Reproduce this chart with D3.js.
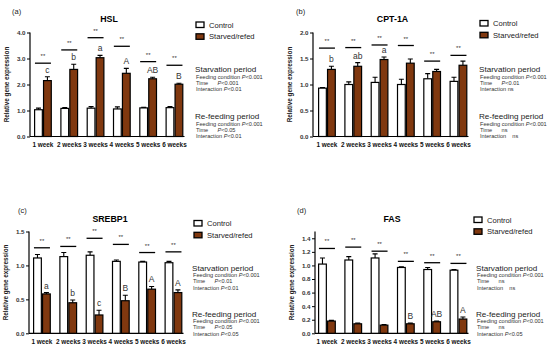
<!DOCTYPE html>
<html>
<head>
<meta charset="utf-8">
<script src="https://cdn.jsdelivr.net/npm/d3@7"></script>
<style>
  body { margin: 0; background: #fff; }
  svg { font-family: Arial, "Liberation Sans", sans-serif; }
</style>
</head>
<body>
<svg width="550" height="353"></svg>
<script>
// data
var weeks = ["1 week", "2 weeks", "3 weeks", "4 weeks", "5 weeks", "6 weeks"];

var hslControl = [1.03, 1.08, 1.09, 1.06, 1.10, 1.11];
var hslControlErr = [0.06, 0.03, 0.06, 0.08, 0.02, 0.04];
var hslStarved = [2.15, 2.58, 3.03, 2.43, 2.22, 2.01];
var hslStarvedErr = [0.15, 0.20, 0.09, 0.19, 0.06, 0.04];
var hslSig = [2.82, 3.33, 3.80, 3.47, 2.88, 2.74];
var hslLetters = ["c", "b", "a", "A", "AB", "B"];

var cptControl = [0.93, 1.00, 1.04, 1.00, 1.11, 1.06];
var cptControlErr = [0.01, 0.05, 0.10, 0.10, 0.10, 0.08];
var cptStarved = [1.29, 1.35, 1.48, 1.41, 1.25, 1.37];
var cptStarvedErr = [0.06, 0.07, 0.05, 0.08, 0.04, 0.08];
var cptSig = [1.70, 1.71, 1.76, 1.75, 1.45, 1.56];
var cptLetters = ["b", "ab", "a", "", "", ""];

var srebpControl = [1.11, 1.13, 1.15, 1.06, 1.05, 1.04];
var srebpControlErr = [0.05, 0.06, 0.05, 0.02, 0.01, 0.02];
var srebpStarved = [0.58, 0.45, 0.27, 0.48, 0.65, 0.60];
var srebpStarvedErr = [0.02, 0.04, 0.07, 0.08, 0.04, 0.04];
var srebpSig = [1.26, 1.28, 1.40, 1.31, 1.19, 1.20];
var srebpLetters = ["a", "b", "c", "B", "A", "A"];

var fasControl = [1.02, 1.08, 1.11, 0.97, 0.94, 0.93];
var fasControlErr = [0.09, 0.05, 0.06, 0.01, 0.03, 0.01];
var fasStarved = [0.18, 0.14, 0.12, 0.14, 0.17, 0.21];
var fasStarvedErr = [0.01, 0.01, 0.01, 0.01, 0.01, 0.03];
var fasSig = [1.25, 1.27, 1.21, 1.06, 1.04, 1.03];
var fasLetters = ["", "", "", "B", "AB", "A"];

var svg = d3.select("svg");
var brown = "#80380f";

function statBlock(g, x, y, title, time, inter) {
  g.append("text").attr("x", x).attr("y", y).attr("font-size", 8.1)
    .attr("fill", "#222").text(title);
  var lines = [["Feeding condition ", "P", "<0.001"], ["Time      ", time[0], time[1]],
               ["Interaction ", inter[0], inter[1]]];
  lines.forEach(function(l, i) {
    var t = g.append("text").attr("x", x + 1).attr("y", y + 6.5 + i * 6.3)
      .attr("font-size", 5.6).attr("fill", "#333").attr("xml:space", "preserve");
    t.append("tspan").text(l[0]);
    t.append("tspan").attr("font-style", "italic").text(l[1]);
    t.append("tspan").text(l[2]);
  });
}

function drawPanel(p) {
  var g = svg.append("g");
  var x = d3.scaleBand().domain(weeks).range([p.x0, p.x0 + 149.4])
    .paddingInner(0.32).paddingOuter(0);
  var y = d3.scaleLinear().domain([0, p.ymax]).range([p.y0, p.y1]);
  var bw = x.bandwidth() / 2;

  // y axis
  var ya = g.append("g").attr("transform", "translate(" + p.ax + ",0)")
    .call(d3.axisLeft(y).tickValues(p.ticks).tickFormat(d3.format(".1f")).tickSize(3).tickPadding(1.5));
  ya.select(".domain").attr("stroke-width", 1.2).attr("d", "M0," + p.y0 + "V" + p.y1);
  ya.selectAll(".tick line").attr("stroke-width", 1);
  ya.selectAll("text").attr("font-size", 6.2).attr("font-weight", "bold").attr("fill", "#333").attr("font-family", "Arial, sans-serif");

  // x axis
  var xa = g.append("g").attr("transform", "translate(0," + p.y0 + ")")
    .call(d3.axisBottom(x).tickSize(0).tickPadding(6));
  xa.select(".domain").attr("stroke-width", 1.2).attr("d", "M" + p.ax + ",0H" + (p.x0 + 150.5));
  xa.selectAll("text").attr("font-size", 6.4).attr("font-weight", "bold").attr("fill", "#111").attr("font-family", "Arial, sans-serif");

  // bars
  var series = [[p.ctrl, p.ctrlErr, "#fff", 0], [p.starved, p.starvedErr, brown, 1]];
  series.forEach(function(s) {
    var sg = g.append("g");
    // error bars (up only)
    sg.selectAll("path.err").data(s[0]).enter().append("path")
      .attr("d", function(d, i) {
        var cx = x(weeks[i]) + bw * s[3] + bw / 2;
        var top = y(d + s[1][i]);
        return "M" + cx + "," + y(d) + "V" + top + "M" + (cx - 2.5) + "," + top + "H" + (cx + 2.5);
      })
      .attr("stroke", "#000").attr("stroke-width", 1.1).attr("fill", "none");
    sg.selectAll("rect").data(s[0]).enter().append("rect")
      .attr("x", function(d, i) { return x(weeks[i]) + bw * s[3] + 0.6; })
      .attr("y", function(d) { return y(d); })
      .attr("width", bw - 1.2)
      .attr("height", function(d) { return p.y0 - y(d); })
      .attr("fill", s[2]).attr("stroke", "#000").attr("stroke-width", 1.2);
  });

  // significance lines
  g.selectAll("line.sig").data(p.sig).enter().append("line")
    .attr("x1", function(d, i) { return x(weeks[i]) + bw - 8; })
    .attr("x2", function(d, i) { return x(weeks[i]) + bw + 8; })
    .attr("y1", function(d) { return y(d); }).attr("y2", function(d) { return y(d); })
    .attr("stroke", "#000").attr("stroke-width", 1.3);
  g.selectAll("text.star").data(p.sig).enter().append("text")
    .attr("x", function(d, i) { return x(weeks[i]) + bw; })
    .attr("y", function(d) { return y(d) - 5; })
    .attr("text-anchor", "middle").attr("font-size", 6).attr("fill", "#333").text("**");

  // letters
  g.selectAll("text.letter").data(p.letters).enter().append("text")
    .attr("x", function(d, i) { return x(weeks[i]) + bw * 1.5; })
    .attr("y", function(d, i) { return y(p.starved[i] + p.starvedErr[i]) - 4; })
    .attr("text-anchor", "middle").attr("font-size", 8.5).attr("fill", "#333")
    .text(function(d) { return d; });

  // y title
  g.append("text").attr("transform", "translate(" + (p.ax - 21) + "," + ((p.y0 + p.y1) / 2) + ") rotate(-90)")
    .attr("text-anchor", "middle").attr("font-size", 6.3).attr("font-weight", "bold")
    .attr("fill", "#222").text("Relative gene expression");

  // title and panel tag
  g.append("text").attr("x", p.tx).attr("y", p.ty).attr("text-anchor", "middle")
    .attr("font-size", 8.8).attr("font-weight", "bold").text(p.title);
  g.append("text").attr("x", p.lx).attr("y", p.ly).attr("font-size", 7.5).attr("fill", "#222").text(p.tag);

  // legend
  [["Control", "#fff"], ["Starved/refed", brown]].forEach(function(l, i) {
    g.append("rect").attr("x", p.legX).attr("y", p.legY + i * 11.8).attr("width", 8).attr("height", 5.5)
      .attr("fill", l[1]).attr("stroke", "#000").attr("stroke-width", 1.3);
    g.append("text").attr("x", p.legX + 13).attr("y", p.legY + 5.5 + i * 11.8)
      .attr("font-size", 7.6).attr("fill", "#222").text(l[0]);
  });

  statBlock(g, p.sx, p.sy1, "Starvation period", p.st1[0], p.st1[1]);
  statBlock(g, p.sx, p.sy2, "Re-feeding period", p.st2[0], p.st2[1]);
}

drawPanel({
  tag: "(a)", title: "HSL", ctrl: hslControl, ctrlErr: hslControlErr, starved: hslStarved,
  starvedErr: hslStarvedErr, sig: hslSig, letters: hslLetters,
  ax: 30, x0: 34, y0: 136.5, y1: 32.5, ymax: 4, ticks: [0, 1, 2, 3, 4],
  tx: 109, ty: 22, lx: 12, ly: 14, legX: 196, legY: 22,
  sx: 195, sy1: 72, sy2: 119,
  st1: [["P", "<0.001"], ["P", "<0.01"]], st2: [["P", "<0.05"], ["P", "<0.01"]]
});
drawPanel({
  tag: "(b)", title: "CPT-1A", ctrl: cptControl, ctrlErr: cptControlErr, starved: cptStarved,
  starvedErr: cptStarvedErr, sig: cptSig, letters: cptLetters,
  ax: 313, x0: 318, y0: 136.5, y1: 32.5, ymax: 2, ticks: [0, 0.5, 1, 1.5, 2],
  tx: 392.5, ty: 22, lx: 296, ly: 14, legX: 480, legY: 20.5,
  sx: 479, sy1: 72, sy2: 119,
  st1: [["P", "<0.01"], ["", "ns"]], st2: [["", "ns"], ["", "   ns"]]
});
drawPanel({
  tag: "(c)", title: "SREBP1", ctrl: srebpControl, ctrlErr: srebpControlErr, starved: srebpStarved,
  starvedErr: srebpStarvedErr, sig: srebpSig, letters: srebpLetters,
  ax: 29, x0: 33, y0: 333.3, y1: 231.5, ymax: 1.5, ticks: [0, 0.5, 1, 1.5],
  tx: 110, ty: 221.5, lx: 18, ly: 212.5, legX: 194, legY: 220.5,
  sx: 192, sy1: 270.5, sy2: 316.5,
  st1: [["P", "<0.01"], ["P", "<0.01"]], st2: [["P", "<0.05"], ["P", "<0.05"]]
});
drawPanel({
  tag: "(d)", title: "FAS", ctrl: fasControl, ctrlErr: fasControlErr, starved: fasStarved,
  starvedErr: fasStarvedErr, sig: fasSig, letters: fasLetters,
  ax: 315, x0: 318, y0: 333.3, y1: 231.5, ymax: 1.5, ticks: [0, 0.2, 0.4, 0.6, 0.8, 1, 1.2, 1.4],
  tx: 392, ty: 222, lx: 297, ly: 212.5, legX: 474, legY: 217,
  sx: 476, sy1: 270.5, sy2: 316.5,
  st1: [["", "ns"], ["", "   ns"]], st2: [["", "ns"], ["P", "<0.05"]]
});
</script>
</body>
</html>
